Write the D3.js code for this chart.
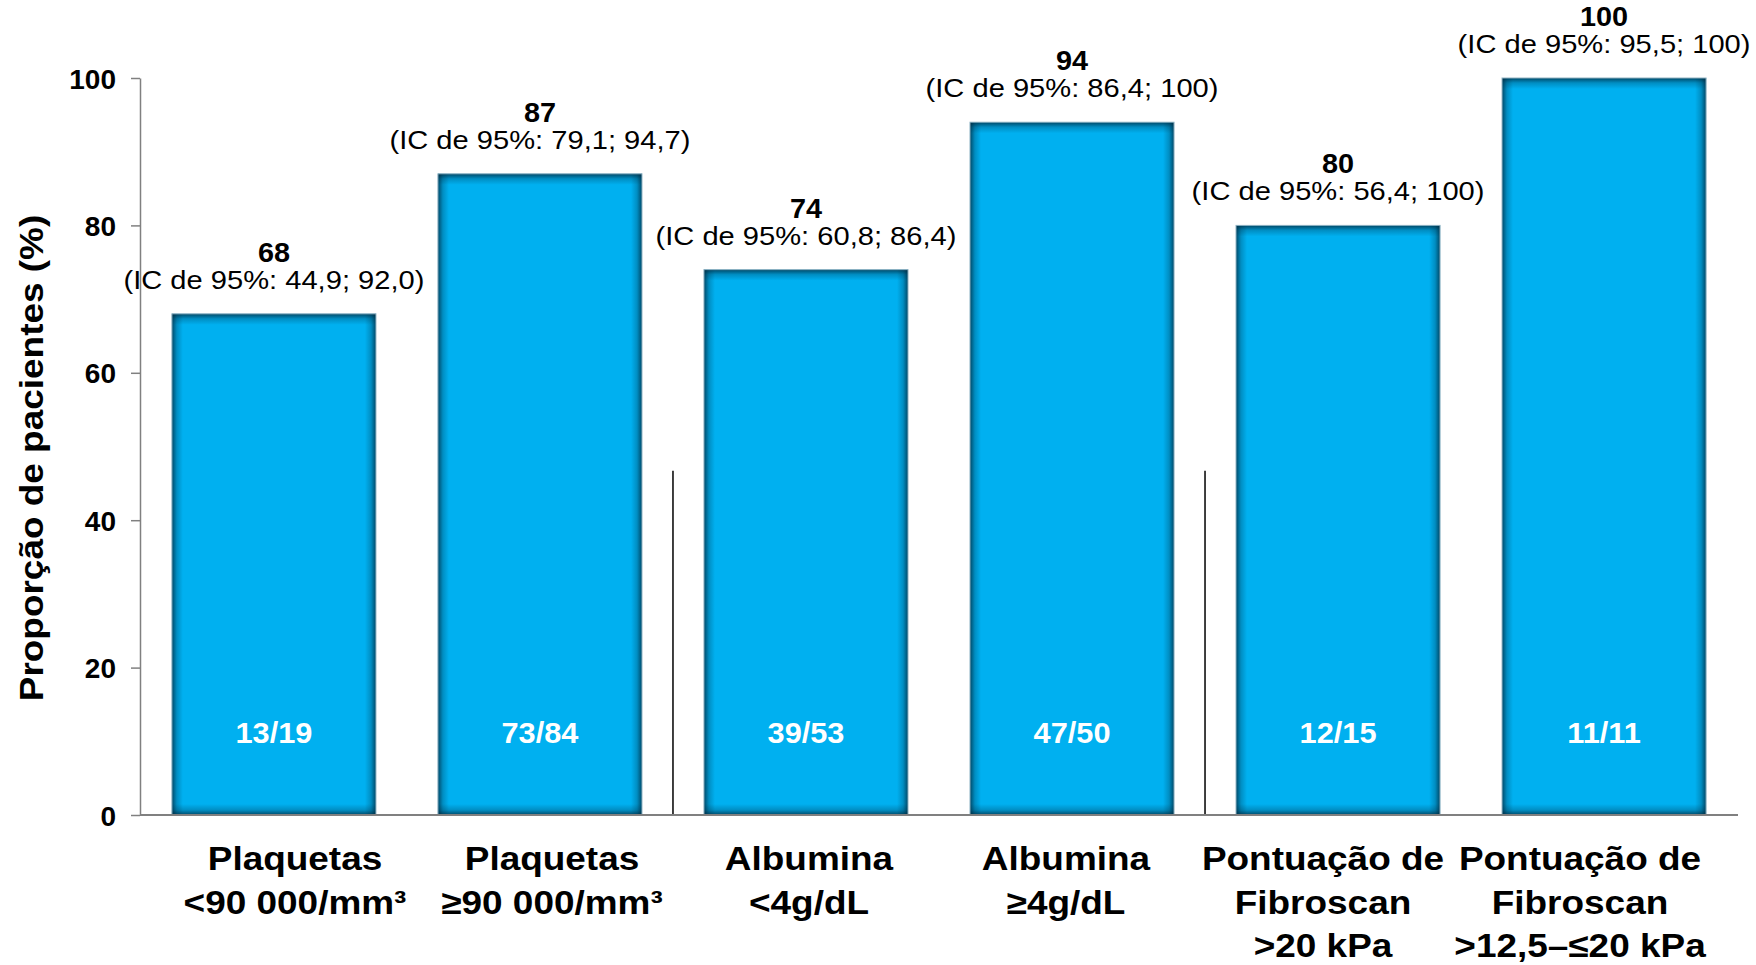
<!DOCTYPE html>
<html>
<head>
<meta charset="utf-8">
<script src="https://cdn.jsdelivr.net/npm/d3@7"></script>
<style>
  html, body { margin: 0; padding: 0; background: #fff; }
  svg { display: block; font-family: "Liberation Sans", Arial, sans-serif; }
</style>
</head>
<body>
<svg id="chart" width="1756" height="965"></svg>
<script>
// Categories (x axis, multi-line labels)
const categories = ["plq_lt90", "plq_ge90", "alb_lt4", "alb_ge4", "fib_gt20", "fib_12_20"];
const categoryLines = [
  ["Plaquetas", "<90 000/mm³"],
  ["Plaquetas", "≥90 000/mm³"],
  ["Albumina", "<4g/dL"],
  ["Albumina", "≥4g/dL"],
  ["Pontuação de", "Fibroscan", ">20 kPa"],
  ["Pontuação de", "Fibroscan", ">12,5–≤20 kPa"]
];
// Proportion of patients (%)
const values = [68, 87, 74, 94, 80, 100];
// 95% confidence intervals
const ciLow = ["44,9", "79,1", "60,8", "86,4", "56,4", "95,5"];
const ciHigh = ["92,0", "94,7", "86,4", "100", "100", "100"];
// Patient counts n/N
const counts = ["13/19", "73/84", "39/53", "47/50", "12/15", "11/11"];
// Y axis ticks
const yTicks = [0, 20, 40, 60, 80, 100];
const yTitle = "Proporção de pacientes (%)";

const svg = d3.select("#chart");
const axisX = 140, axisRight = 1738, yTop = 78, yBottom = 815;

const x = d3.scaleBand()
  .domain(categories)
  .range([axisX, axisRight])
  .paddingInner(0.233)
  .paddingOuter(0.12);

const y = d3.scaleLinear().domain([0, 100]).range([yBottom, yTop]);

// Category label centres sit on their own evenly spaced text track
const xLabel = d3.scalePoint().domain(categories).range([295, 1580]);

// Edge shading gradients (inner shadow look of the bars)
const defs = svg.append("defs");
const shadeDefs = [
  { id: "shadeL", x1: 0, y1: 0, x2: 1, y2: 0 },
  { id: "shadeR", x1: 1, y1: 0, x2: 0, y2: 0 },
  { id: "shadeT", x1: 0, y1: 0, x2: 0, y2: 1 },
  { id: "shadeB", x1: 0, y1: 1, x2: 0, y2: 0 }
];
shadeDefs.forEach(s => {
  const g = defs.append("linearGradient").attr("id", s.id)
    .attr("x1", s.x1).attr("y1", s.y1).attr("x2", s.x2).attr("y2", s.y2);
  g.append("stop").attr("offset", 0).attr("stop-color", "#00263a").attr("stop-opacity", 0.75);
  g.append("stop").attr("offset", 0.45).attr("stop-color", "#00263a").attr("stop-opacity", 0.25);
  g.append("stop").attr("offset", 1).attr("stop-color", "#00263a").attr("stop-opacity", 0);
});

// Helper: horizontally stretched text placed at (px, py)
function label(g, px, py, txt, size, weight, sx, fill) {
  return g.append("text")
    .attr("transform", `translate(${px},${py}) scale(${sx},1)`)
    .attr("text-anchor", "middle")
    .attr("font-size", size)
    .attr("font-weight", weight)
    .attr("fill", fill || "#000")
    .text(txt);
}

// Bars
const edge = 11;
const barG = svg.append("g").selectAll("g")
  .data(values)
  .join("g")
  .attr("transform", (d, i) => `translate(${x(categories[i])},${y(d)})`);

barG.append("rect")
  .attr("width", x.bandwidth())
  .attr("height", d => y(0) - y(d))
  .attr("fill", "#00b0f0");

barG.append("rect").attr("width", edge).attr("height", d => y(0) - y(d)).attr("fill", "url(#shadeL)");
barG.append("rect").attr("x", x.bandwidth() - edge).attr("width", edge).attr("height", d => y(0) - y(d)).attr("fill", "url(#shadeR)");
barG.append("rect").attr("width", x.bandwidth()).attr("height", edge).attr("fill", "url(#shadeT)");
barG.append("rect").attr("y", d => y(0) - y(d) - edge).attr("width", x.bandwidth()).attr("height", edge).attr("fill", "url(#shadeB)");

barG.append("rect")
  .attr("width", x.bandwidth())
  .attr("height", d => y(0) - y(d))
  .attr("fill", "none")
  .attr("stroke", "#8fb3c4")
  .attr("stroke-width", 1);

// Group separators
const sepG = svg.append("g");
[[1, 2], [3, 4]].forEach(([a, b]) => {
  const sx = (x(categories[a]) + x.bandwidth() + x(categories[b])) / 2;
  sepG.append("line")
    .attr("x1", sx).attr("x2", sx)
    .attr("y1", y(46.7)).attr("y2", y(0))
    .attr("stroke", "#000").attr("stroke-width", 1.5);
});

// Y axis
const yAxis = svg.append("g")
  .attr("transform", `translate(${axisX},0)`)
  .call(d3.axisLeft(y).tickValues(yTicks).tickSize(9).tickPadding(15).tickSizeOuter(0));
yAxis.select(".domain").attr("stroke", "#808080").attr("stroke-width", 1.5);
yAxis.selectAll(".tick line").attr("stroke", "#808080").attr("stroke-width", 1.5);
yAxis.selectAll(".tick text")
  .attr("font-family", "'Liberation Sans', Arial, sans-serif")
  .attr("font-size", 28).attr("font-weight", "bold").attr("fill", "#000")
  .attr("dy", "0.36em");

// Baseline
svg.append("line")
  .attr("x1", axisX).attr("x2", axisRight)
  .attr("y1", y(0)).attr("y2", y(0))
  .attr("stroke", "#808080").attr("stroke-width", 2);

// Value and confidence interval labels above bars
const topG = svg.append("g");
values.forEach((v, i) => {
  const cx = x(categories[i]) + x.bandwidth() / 2;
  label(topG, cx, y(v) - 52, String(v), 28, "bold", 1.03);
  label(topG, cx, y(v) - 25, `(IC de 95%: ${ciLow[i]}; ${ciHigh[i]})`, 26, "normal", 1.12);
});

// Counts inside bars
const inG = svg.append("g");
counts.forEach((c, i) => {
  const cx = x(categories[i]) + x.bandwidth() / 2;
  label(inG, cx, y(0) - 72, c, 29, "bold", 1.06, "#fff");
});

// Category labels
const catG = svg.append("g");
categoryLines.forEach((lines, i) => {
  lines.forEach((ln, j) => {
    label(catG, xLabel(categories[i]), y(0) + 55 + j * 43.5, ln, 33, "bold", 1.12);
  });
});

// Y axis title
svg.append("text")
  .attr("transform", `translate(43,458) rotate(-90) scale(1.12,1)`)
  .attr("text-anchor", "middle")
  .attr("font-size", 33)
  .attr("font-weight", "bold")
  .attr("fill", "#000")
  .text(yTitle);
</script>
</body>
</html>
